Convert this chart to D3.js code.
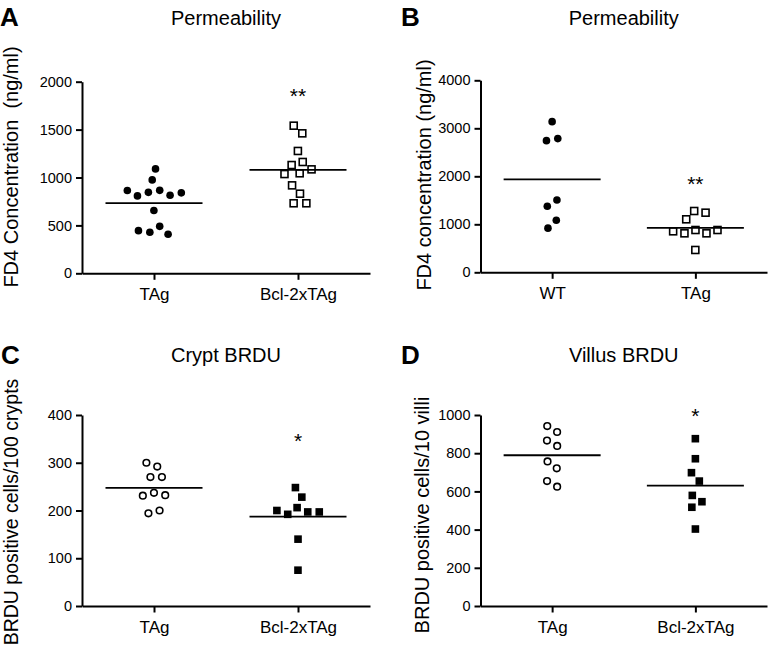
<!DOCTYPE html>
<html>
<head>
<meta charset="utf-8">
<script src="https://cdn.jsdelivr.net/npm/d3@7"></script>
<style>
  html, body { margin: 0; padding: 0; background: #fff; }
  svg { display: block; font-family: "Liberation Sans", Arial, Helvetica, sans-serif; }
</style>
</head>
<body>
<svg id="chart" width="772" height="650"></svg>
<script>
// ---------------- data ----------------
const panelLetters = ["A", "B", "C", "D"];
const panelTitles = ["Permeability", "Permeability", "Crypt BRDU", "Villus BRDU"];
const yAxisTitles = [
  "FD4 Concentration  (ng/ml)",
  "FD4 concentration (ng/ml)",
  "BRDU positive cells/100 crypts",
  "BRDU positive cells/10 villi"
];

const categoriesA = ["TAg", "Bcl-2xTAg"];
const categoriesB = ["WT", "TAg"];
const categoriesC = ["TAg", "Bcl-2xTAg"];
const categoriesD = ["TAg", "Bcl-2xTAg"];

const yTicksA = [0, 500, 1000, 1500, 2000];
const yTicksB = [0, 1000, 2000, 3000, 4000];
const yTicksC = [0, 100, 200, 300, 400];
const yTicksD = [0, 200, 400, 600, 800, 1000];

// A: FD4 concentration (ng/ml)
const valuesA_TAg = [1090, 975, 865, 840, 808, 814, 845, 866, 655, 490, 445, 408, 428];
const valuesA_Bcl = [1541, 1461, 1277, 1162, 1130, 1085, 1036, 1044, 918, 831, 731, 731];
// B: FD4 concentration (ng/ml)
const valuesB_WT  = [3139, 2785, 2743, 1506, 1375, 1085, 920];
const valuesB_TAg = [1277, 1242, 1104, 881, 812, 812, 854, 881, 465];
// C: BRDU positive cells / 100 crypts
const valuesC_TAg = [300, 292, 270, 270, 237, 232, 231, 200, 194];
const valuesC_Bcl = [248, 228, 206, 197, 192, 197, 200, 140, 75];
// D: BRDU positive cells / 10 villi
const valuesD_TAg = [942, 911, 866, 838, 757, 721, 654, 625];
const valuesD_Bcl = [876, 771, 698, 654, 579, 546, 517, 403];

// significance marks (label, value level, on second group)
const sigLabels = ["**", "**", "*", "*"];
const sigLevels = [1900, 1937, 355, 1017];

// ---------------- layout / style ----------------
const svg = d3.select("#chart");
const FONT = '"Liberation Sans", Arial, Helvetica, sans-serif';
const SPACING = 11.5;     // horizontal spacing of swarm points
const MEAN_HALF = 48.5;   // half width of mean line

const panels = [
  { letter: panelLetters[0], title: panelTitles[0], ytitle: yAxisTitles[0], cats: categoriesA, ticks: yTicksA,
    series: [{ v: valuesA_TAg, m: "filledCircle" }, { v: valuesA_Bcl, m: "openSquare" }],
    xr: [82, 370], yr: [273.3, 81.7], letterPos: [0, 26], titleY: 25, ytitlePos: [17.5, 167], ytSize: 20, sig: 0 },
  { letter: panelLetters[1], title: panelTitles[1], ytitle: yAxisTitles[1], cats: categoriesB, ticks: yTicksB,
    series: [{ v: valuesB_WT, m: "filledCircle" }, { v: valuesB_TAg, m: "openSquare" }],
    xr: [480.5, 767], yr: [272.3, 80.3], letterPos: [401, 26], titleY: 25, ytitlePos: [431, 175], ytSize: 20, sig: 1 },
  { letter: panelLetters[2], title: panelTitles[2], ytitle: yAxisTitles[2], cats: categoriesC, ticks: yTicksC,
    series: [{ v: valuesC_TAg, m: "openCircle" }, { v: valuesC_Bcl, m: "filledSquare" }],
    xr: [82, 370], yr: [606, 415], letterPos: [1, 364], titleY: 362, ytitlePos: [17.5, 512], ytSize: 19.5, sig: 2 },
  { letter: panelLetters[3], title: panelTitles[3], ytitle: yAxisTitles[3], cats: categoriesD, ticks: yTicksD,
    series: [{ v: valuesD_TAg, m: "openCircle" }, { v: valuesD_Bcl, m: "filledSquare" }],
    xr: [480.5, 767], yr: [606, 415], letterPos: [401, 364], titleY: 362, ytitlePos: [429, 515], ytSize: 20, sig: 3 }
];

function swarm(values, cx, y) {
  const nodes = values.map((v, i) => ({
    v, fy: y(v), y: y(v),
    x: cx + (i % 2 ? 1 : -1) * (0.4 + i * 0.07)
  }));
  const sim = d3.forceSimulation(nodes)
    .force("x", d3.forceX(cx).strength(0.05))
    .force("collide", d3.forceCollide(SPACING / 2).strength(1).iterations(4))
    .stop();
  for (let i = 0; i < 400; i++) sim.tick();
  return nodes;
}

panels.forEach(p => {
  const g = svg.append("g");
  const ymax = p.ticks[p.ticks.length - 1];
  const x = d3.scalePoint().domain(p.cats).range(p.xr).padding(0.5);
  const y = d3.scaleLinear().domain([0, ymax]).range(p.yr);

  // axes
  const yAxis = d3.axisLeft(y).tickValues(p.ticks).tickSizeInner(6).tickSizeOuter(0).tickPadding(4).tickFormat(d3.format("d"));
  const xAxis = d3.axisBottom(x).tickSizeInner(6.5).tickSizeOuter(0).tickPadding(8.5);

  const ya = g.append("g").attr("transform", `translate(${p.xr[0]},0)`).call(yAxis);
  const xa = g.append("g").attr("transform", `translate(0,${p.yr[0]})`).call(xAxis);
  [ya, xa].forEach(a => {
    a.selectAll("path.domain").attr("stroke", "#000").attr("stroke-width", 2);
    a.selectAll(".tick line").attr("stroke", "#000").attr("stroke-width", 2);
    a.selectAll("text").attr("fill", "#000").attr("font-family", FONT);
  });
  ya.selectAll("text").attr("font-size", 14.5);
  xa.selectAll("text").attr("font-size", 17);

  // points
  p.series.forEach((s, si) => {
    const cx = x(p.cats[si]);
    const nodes = swarm(s.v, cx, y);
    if (s.m === "filledCircle") {
      g.selectAll(null).data(nodes).enter().append("circle")
        .attr("cx", d => d.x).attr("cy", d => d.fy).attr("r", 3.8).attr("fill", "#000");
    } else if (s.m === "openCircle") {
      g.selectAll(null).data(nodes).enter().append("circle")
        .attr("cx", d => d.x).attr("cy", d => d.fy).attr("r", 3.3)
        .attr("fill", "#fff").attr("stroke", "#000").attr("stroke-width", 1.6);
    } else if (s.m === "openSquare") {
      const a = 7;
      g.selectAll(null).data(nodes).enter().append("rect")
        .attr("x", d => d.x - a / 2).attr("y", d => d.fy - a / 2).attr("width", a).attr("height", a)
        .attr("fill", "#fff").attr("stroke", "#000").attr("stroke-width", 1.6);
    } else {
      const a = 7.6;
      g.selectAll(null).data(nodes).enter().append("rect")
        .attr("x", d => d.x - a / 2).attr("y", d => d.fy - a / 2).attr("width", a).attr("height", a)
        .attr("fill", "#000");
    }
    // mean line
    const m = d3.mean(s.v);
    g.append("line")
      .attr("x1", cx - MEAN_HALF).attr("x2", cx + MEAN_HALF)
      .attr("y1", y(m)).attr("y2", y(m))
      .attr("stroke", "#000").attr("stroke-width", 1.8);
  });

  // significance
  g.append("text")
    .attr("x", x(p.cats[1])).attr("y", y(sigLevels[p.sig]))
    .attr("dy", "0.55em")
    .attr("text-anchor", "middle").attr("font-size", 21).attr("font-family", FONT)
    .text(sigLabels[p.sig]);

  // title
  g.append("text")
    .attr("x", (p.xr[0] + p.xr[1]) / 2).attr("y", p.titleY)
    .attr("text-anchor", "middle").attr("font-size", 20).attr("font-family", FONT)
    .text(p.title);

  // panel letter
  g.append("text")
    .attr("x", p.letterPos[0]).attr("y", p.letterPos[1])
    .attr("font-size", 26).attr("font-weight", "bold").attr("font-family", FONT)
    .text(p.letter);

  // y axis title
  g.append("text")
    .attr("transform", `translate(${p.ytitlePos[0]},${p.ytitlePos[1]}) rotate(-90)`)
    .attr("text-anchor", "middle").attr("font-size", p.ytSize).attr("font-family", FONT)
    .style("white-space", "pre")
    .text(p.ytitle);
});
</script>
</body>
</html>
